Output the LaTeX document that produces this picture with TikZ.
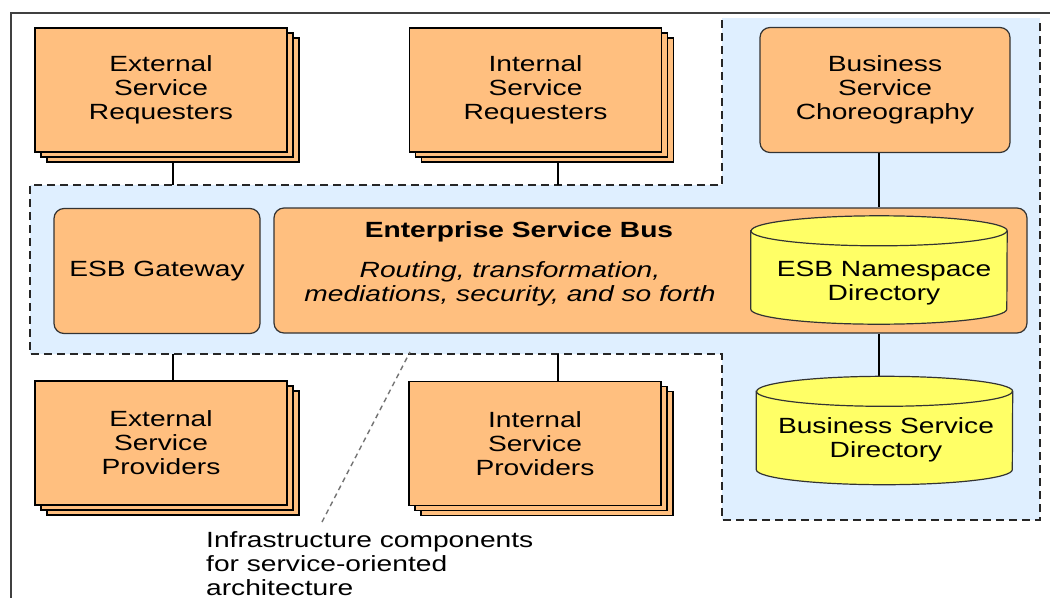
\documentclass[tikz,border=0pt]{standalone}
\usepackage{fontspec}
\setmainfont{Liberation Sans}[FakeStretch=1.28]
\usetikzlibrary{shadows,backgrounds}

\definecolor{esborange}{HTML}{FFBF7F}
\definecolor{esbblue}{HTML}{DFEFFF}
\definecolor{esbyellow}{HTML}{FFFF66}

\tikzset{
  stackbox/.style={draw, fill=esborange, line width=1.4pt, minimum width=252pt, minimum height=124pt,
    align=center, inner sep=0pt,
    copy shadow={shadow xshift=12pt, shadow yshift=-10pt},
    copy shadow={shadow xshift=6pt, shadow yshift=-5pt}},
  roundbox/.style={draw=black!80, fill=esborange, line width=1.2pt, rounded corners=10pt, align=center, inner sep=0pt},
  diskarea/.style={minimum width=256pt, minimum height=108pt, inner sep=0pt},
  diskline/.style={draw=black!80, fill=esbyellow, line width=1.2pt},
  link/.style={line width=1.3pt},
  zoneline/.style={line width=1.4pt, dash pattern=on 8pt off 5pt, black!85},
}

% database disk drawn round an empty node
\newcommand{\diskshape}[1]{%
  \filldraw[diskline] ([yshift=-15pt]#1.north west) -- ([yshift=15pt]#1.south west)
    arc[start angle=180, end angle=360, x radius=128pt, y radius=15pt]
    -- ([yshift=-15pt]#1.north east)
    arc[start angle=0, end angle=180, x radius=128pt, y radius=15pt] -- cycle;
  \draw[diskline, fill=none] ([yshift=-15pt]#1.north west)
    arc[start angle=180, end angle=360, x radius=128pt, y radius=15pt];
}

\begin{document}
\begin{tikzpicture}[x=1pt, y=-1pt, font=\fontsize{22}{24}\selectfont]
    \useasboundingbox (0,0) rectangle (1050,598);

    % Frame
    \draw[line width=2pt, black!75] (1050,13) -- (11,13) -- (11,598);

    % Requesters and providers
    \node[stackbox] (esr) at (161,90) {External\\Service\\Requesters};
    \node[stackbox] (isr) at (535.5,90) {Internal\\Service\\Requesters};
    \node[stackbox] (esp) at (161,443) {External\\Service\\Providers};
    \node[stackbox] (isp) at (535,443.5) {Internal\\Service\\Providers};

    % Bus and gateway
    \node[roundbox, minimum width=250pt, minimum height=125pt] (bsc) at (885,90) {Business\\Service\\Choreography};
    \node[roundbox, minimum width=206pt, minimum height=125pt] (gw) at (157,271) {ESB Gateway};
    \node[roundbox, minimum width=753pt, minimum height=125pt] (bus) at (650.5,270.5) {};
    \node (bustitle) at (519,232) {\bfseries Enterprise Service Bus};
    \node[align=center, font=\fontsize{22}{24}\selectfont\itshape] (busnote) at (510,284)
        {Routing, transformation,\\mediations, security, and so forth};

    % Directories
    \node[diskarea] (nsdir) at (879,270) {};
    \diskshape{nsdir}
    \node[align=center] (nstext) at (884,283) {ESB Namespace\\Directory};
    \node[diskarea] (bsdir) at (884.5,430.5) {};
    \diskshape{bsdir}
    \node[align=center] (bstext) at (886,440) {Business Service\\Directory};

    % Note
    \node[anchor=north west, align=left, inner sep=0pt] (note) at (206,531)
        {Infrastructure components\\for service-oriented\\architecture};
    \coordinate (notetip) at (322,522);
    \coordinate (zonept) at (410,352);

    \begin{scope}[on background layer]
        % Infrastructure zone
        \fill[esbblue] (722,18) -- (722,185) -- (30,185) -- (30,354) -- (722,354)
            -- (722,520) -- (1040,520) -- (1040,18) -- cycle;
        \draw[zoneline] (722,20) -- (722,185) -- (30,185) -- (30,354) -- (722,354)
            -- (722,520) -- (1040,520) -- (1040,20);
        \coordinate (zesr) at (173,185);
        \coordinate (zisr) at (558,185);
        \coordinate (zesp) at (173,354);
        \coordinate (zisp) at (558,354);

        % Connectors
        \draw[link] (esr.south -| zesr) -- (zesr);
        \draw[link] (isr.south -| zisr) -- (zisr);
        \draw[link] (zesp) -- (esp.north -| zesp);
        \draw[link] (zisp) -- (isp.north -| zisp);
        \draw[link] (bsc.south -| nsdir) -- (bus.north -| nsdir);
        \draw[link] (bus.south -| nsdir) -- (bsdir.north -| nsdir);
    \end{scope}
    \draw[line width=1.4pt, black!55, dash pattern=on 5pt off 4pt] (notetip) -- (zonept);
\end{tikzpicture}
\end{document}
